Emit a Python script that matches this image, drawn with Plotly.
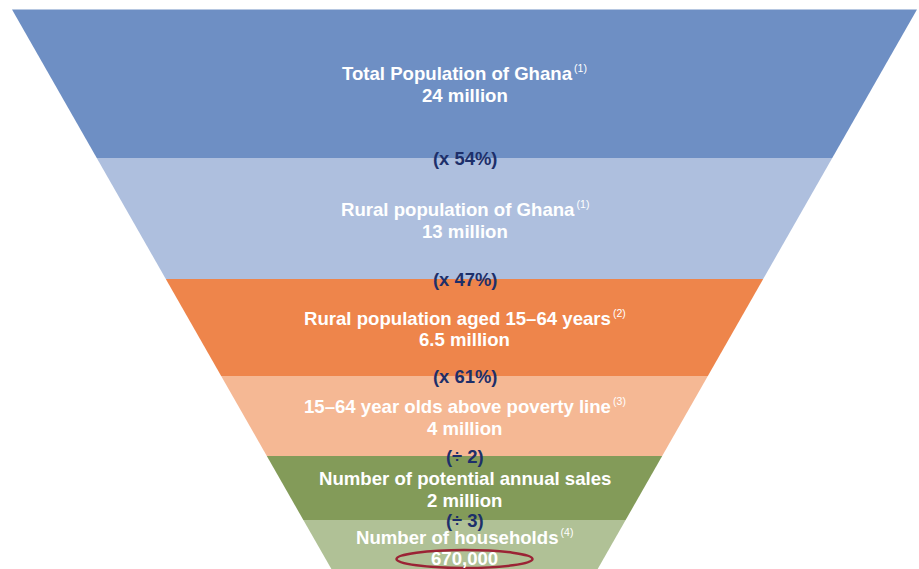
import plotly.graph_objects as go

# Funnel stages, top to bottom
stages = [
    "Total Population of Ghana",
    "Rural population of Ghana",
    "Rural population aged 15–64 years",
    "15–64 year olds above poverty line",
    "Number of potential annual sales",
    "Number of households",
]
stage_values = ["24 million", "13 million", "6.5 million", "4 million", "2 million", "670,000"]
source_notes = ["(1)", "(1)", "(2)", "(3)", "", "(4)"]
step_factors = ["(x 54%)", "(x 47%)", "(x 61%)", "(÷ 2)", "(÷ 3)"]

# Layout geometry (canvas units: x to the right, y downward)
W, H = 919, 569
CX = 464.5            # funnel centre line
TOP_Y = 9.5           # top edge of the funnel
TOP_HALF = 452.5      # half-width at the top edge
SLOPE = 0.5707        # half-width lost per unit of depth
band_edges = [TOP_Y, 158, 279, 376, 456, 520, 802]
label_centres = [84, 220, 328.5, 417, 489, 547.5]
band_colors = ["#6e8fc4", "#aebfde", "#ee854b", "#f5b894", "#839b59", "#b0c196"]


def half_width(y):
    return max(TOP_HALF - SLOPE * (y - TOP_Y), 0.0)


fig = go.Figure()

for i, color in enumerate(band_colors):
    y0, y1 = band_edges[i], band_edges[i + 1]
    xs = [CX - half_width(y0), CX + half_width(y0), CX + half_width(y1), CX - half_width(y1), CX - half_width(y0)]
    ys = [y0, y0, y1, y1, y0]
    fig.add_trace(go.Scatter(
        x=xs, y=ys, mode="lines", fill="toself", fillcolor=color,
        line=dict(width=0, color=color), hoverinfo="skip", showlegend=False,
    ))

white_font = dict(family="Liberation Sans, Arial, sans-serif", size=18.6, color="white")
navy_font = dict(family="Liberation Sans, Arial, sans-serif", size=18.4, color="#1d2f6a")

for name, value, note, yc in zip(stages, stage_values, source_notes, label_centres):
    title = f"<b>{name}</b>"
    if note:
        title += f"<sup><span style='font-size:10.5px'>\u2009{note}</span></sup>"
    fig.add_annotation(x=CX, y=yc - 11, text=title, showarrow=False,
                       xanchor="center", yanchor="middle", font=white_font)
    fig.add_annotation(x=CX, y=yc + 11, text=f"<b>{value}</b>", showarrow=False,
                       xanchor="center", yanchor="middle", font=white_font)

for step, y in zip(step_factors, band_edges[1:6]):
    fig.add_annotation(x=CX, y=y, text=f"<b>{step}</b>", showarrow=False,
                       xanchor="center", yanchor="middle", font=navy_font)

# Highlight ring around the final figure
fig.add_shape(type="circle", xref="x", yref="y",
              x0=CX - 68, x1=CX + 68, y0=label_centres[-1] + 2.5, y1=label_centres[-1] + 20.5,
              line=dict(color="#9b2335", width=2.5), fillcolor="rgba(0,0,0,0)")

fig.update_xaxes(range=[0, W], visible=False, fixedrange=True)
fig.update_yaxes(range=[H, 0], visible=False, fixedrange=True)
fig.update_layout(
    width=W, height=H,
    margin=dict(l=0, r=0, t=0, b=0),
    paper_bgcolor="white", plot_bgcolor="white",
    showlegend=False,
)

fig.write_html("out.html", config={"displayModeBar": False})
